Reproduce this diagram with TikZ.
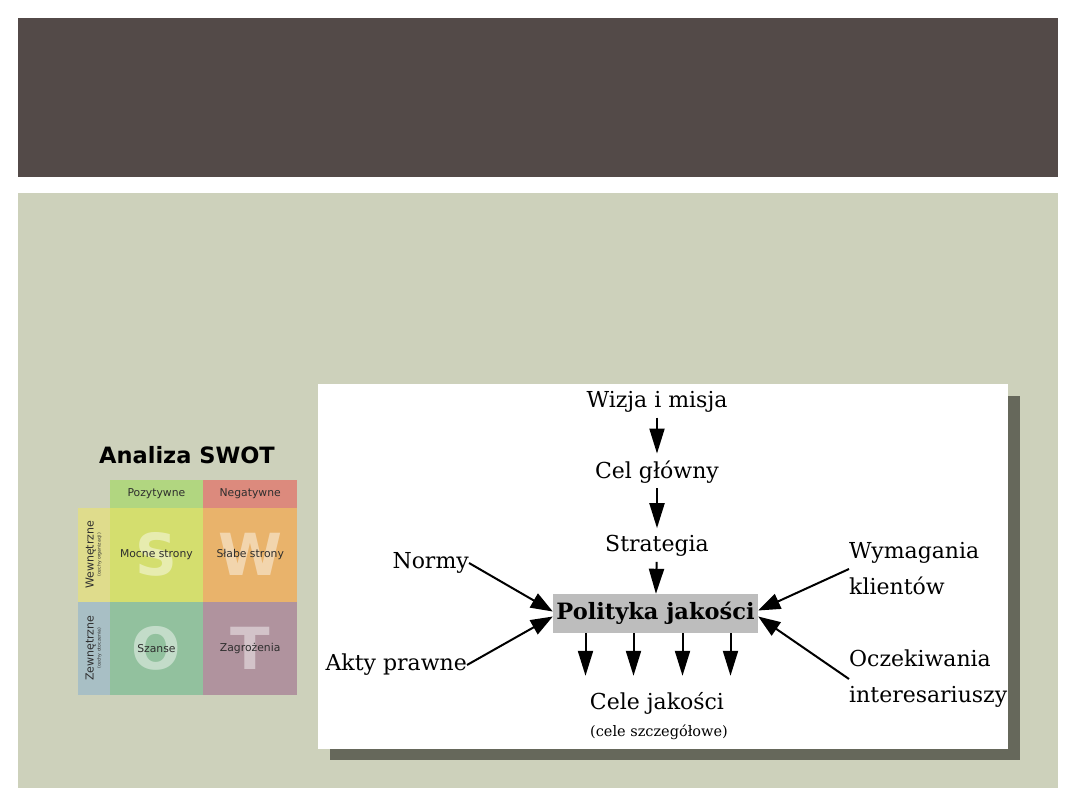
\documentclass[tikz,border=0pt]{standalone}
\usepackage{fontspec}
\setmainfont{DejaVu Serif}
\newfontfamily\swotfont{DejaVu Sans}
\usetikzlibrary{arrows.meta, positioning, calc}
\definecolor{slidehead}{HTML}{534A48}
\definecolor{slidebody}{HTML}{CDD1BB}
\definecolor{panelshadow}{HTML}{66685B}
\definecolor{boxgray}{HTML}{BDBDBD}
\definecolor{swotpos}{HTML}{B1D680}
\definecolor{swotneg}{HTML}{DC8A7D}
\definecolor{swotin}{HTML}{DFDC8C}
\definecolor{swotout}{HTML}{A8BFC5}
\definecolor{swots}{HTML}{D4DE6E}
\definecolor{swotw}{HTML}{E9B36B}
\definecolor{swoto}{HTML}{92C19E}
\definecolor{swott}{HTML}{B0939E}
\definecolor{swotink}{HTML}{2E2E2E}

% SWOT cell: #1 name, #2 placement, #3 colour, #4 big letter, #5 text
\newcommand{\swotcell}[5]{%
  \node[cell, fill=#3, #2] (#1) {};
  \node[bigletter] at (#1) {#4};
  \node[celltext] at (#1) {#5};
}

\begin{document}
\begin{tikzpicture}[x=1pt, y=-1pt,
  % quality-policy diagram on the white panel
  txt/.style    = {font=\fontsize{22}{36}\selectfont, text=black,
                   inner sep=0pt, align=left},
  note/.style   = {font=\fontsize{14.5}{16}\selectfont, text=black, inner sep=0pt},
  policy/.style = {fill=boxgray, font=\bfseries\fontsize{22.5}{26}\selectfont,
                   minimum width=205pt, minimum height=39pt, inner sep=0pt},
  flow/.style   = {-{Triangle[length=25pt, width=15pt]}, line width=2pt,
                   shorten <=5pt, shorten >=7pt},
  feed/.style   = {-{Triangle[length=22pt, width=16pt]}, line width=2pt},
  % SWOT matrix
  cell/.style   = {minimum width=93.8pt, minimum height=93.5pt, inner sep=0pt,
                   outer sep=0pt},
  head/.style   = {minimum width=93.8pt, minimum height=28pt, inner sep=0pt,
                   outer sep=0pt, text=swotink,
                   font=\swotfont\fontsize{10.8}{12}\selectfont},
  sidecell/.style = {minimum width=31.5pt, minimum height=93.5pt, inner sep=0pt,
                   outer sep=0pt},
  sidetext/.style = {rotate=90, inner sep=0pt, text=swotink,
                   font=\swotfont\fontsize{11}{12}\selectfont},
  sidenote/.style = {rotate=90, inner sep=0pt, text=swotink,
                   font=\swotfont\fontsize{4.6}{6}\selectfont},
  bigletter/.style = {text=white, text opacity=0.45, inner sep=0pt,
                   font=\swotfont\bfseries\fontsize{58}{60}\selectfont},
  celltext/.style  = {text=swotink, inner sep=0pt,
                   font=\swotfont\fontsize{10.8}{12}\selectfont},
]
\useasboundingbox (0,0) rectangle (1080,810);
\fill[white] (0,0) rectangle (1080,810);

% ============================ slide ========================================
\fill[slidehead] (18,18) rectangle (1058,177);
\fill[slidebody] (18,193) rectangle (1058,788);

% ============================ SWOT matrix ==================================
\node[font=\swotfont\bfseries\fontsize{22.5}{25}\selectfont, text=black]
     (swottitle) at (187,455) {Analiza SWOT};

\swotcell{cs}{at={(156.4,554.8)}}{swots}{S}{Mocne strony}
\swotcell{cw}{right=0pt of cs}{swotw}{W}{Słabe strony}
\swotcell{co}{below=0pt of cs}{swoto}{O}{Szanse}
\swotcell{ct}{right=0pt of co}{swott}{T}{Zagrożenia}

\node[head, fill=swotpos, above=0pt of cs] (pos) {Pozytywne};
\node[head, fill=swotneg, above=0pt of cw] (neg) {Negatywne};

\node[sidecell, fill=swotin, left=0pt of cs] (wew) {};
\node[sidetext] at ([xshift=-3pt]wew.center) {Wewnętrzne};
\node[sidenote] at ([xshift=5.5pt]wew.center) {(cechy organizacji)};
\node[sidecell, fill=swotout, left=0pt of co] (zew) {};
\node[sidetext] at ([xshift=-3pt]zew.center) {Zewnętrzne};
\node[sidenote] at ([xshift=5.5pt]zew.center) {(cechy otoczenia)};

% ============================ quality policy ===============================
\fill[panelshadow] (330,396) rectangle (1020,760);
\fill[white] (318,384) rectangle (1008,749);

\node[txt] (wizja) at (657,402) {Wizja i misja};
\node[txt] (cel)   at (657,472) {Cel główny};
\node[txt] (strat) at (657,546) {Strategia};
\node[policy] (polityka) at (655.5,613.5) {Polityka jakości};
\node[txt] (cele)  at (657,703) {Cele jakości};
\node[note] (szczeg) at (659,732) {(cele szczegółowe)};

\node[txt, anchor=east] (normy) at (469,563) {Normy};
\node[txt, anchor=east] (akty)  at (467,665) {Akty prawne};
\node[txt, anchor=west] (wym)   at (849,569) {Wymagania\\klientów};
\node[txt, anchor=west] (ocz)   at (849,679) {Oczekiwania\\interesariuszy};

\draw[flow] (wizja) -- (cel);
\draw[flow] (cel)   -- (strat);
\draw[flow, shorten >=0pt] (strat) -- (polityka);

\foreach \dx [count=\i] in {-70,-22,27,75} {
  \coordinate (out\i) at ($(polityka.south)+(\dx,0)$);
  \coordinate (tip\i) at (out\i |- cele.north);
  \draw[flow, shorten <=0pt, shorten >=16pt] (out\i) -- (tip\i);
}

\draw[feed] (normy.east) -- ([yshift=2pt]polityka.west);
\draw[feed] (akty.east)  -- ([yshift=-3pt]polityka.west);
\draw[feed] (wym.west)   -- ([yshift=3pt]polityka.east);
\draw[feed] (ocz.west)   -- ([yshift=-3pt]polityka.east);

\end{tikzpicture}
\end{document}
